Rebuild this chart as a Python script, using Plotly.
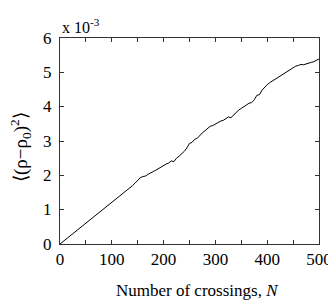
import plotly.graph_objects as go

crossings = list(range(0, 505, 5))
variance_e3 = [
    0.000, 0.060, 0.120, 0.180, 0.240, 0.300, 0.362, 0.420, 0.482, 0.540,
    0.600, 0.662, 0.720, 0.785, 0.842, 0.900, 0.962, 1.015, 1.078, 1.140,
    1.196, 1.262, 1.318, 1.380, 1.440, 1.500, 1.565, 1.630, 1.700, 1.775,
    1.850, 1.930, 1.965, 1.980, 2.030, 2.060, 2.110, 2.150, 2.200, 2.240,
    2.290, 2.330, 2.360, 2.420, 2.400, 2.500, 2.560, 2.620, 2.700, 2.800,
    2.930, 2.960, 3.050, 3.080, 3.170, 3.240, 3.300, 3.360, 3.430, 3.450,
    3.500, 3.530, 3.580, 3.600, 3.640, 3.700, 3.680, 3.760, 3.850, 3.900,
    3.950, 4.000, 4.050, 4.100, 4.120, 4.200, 4.330, 4.350, 4.480, 4.570,
    4.640, 4.700, 4.750, 4.800, 4.850, 4.880, 4.940, 5.000, 5.050, 5.080,
    5.140, 5.180, 5.200, 5.230, 5.220, 5.250, 5.260, 5.290, 5.310, 5.360,
    5.390,
]
x_ticks = list(range(0, 550, 50))
x_labels = [str(v) if v % 100 == 0 else "" for v in x_ticks]
y_ticks = [0, 1, 2, 3, 4, 5, 6]
y_labels = [str(v) for v in y_ticks]

FONT = "Liberation Serif"

fig = go.Figure()
fig.add_trace(go.Scatter(x=crossings, y=variance_e3, mode="lines",
                         line=dict(color="black", width=1), showlegend=False))

# page body has an 8px default margin; offsets below compensate for it
fig.update_layout(
    width=336, height=305,
    margin=dict(l=52, r=21, t=30, b=69),
    paper_bgcolor="white", plot_bgcolor="white",
    font=dict(family=FONT, size=16, color="black"),
)
fig.update_xaxes(range=[0, 500], tickmode="array", tickvals=x_ticks, ticktext=x_labels,
                 ticks="inside", ticklen=4, tickcolor="#333", mirror="ticks",
                 showline=True, linecolor="#333", linewidth=1, showgrid=False,
                 zeroline=False, tickfont=dict(family=FONT, size=17, color="black"))
fig.update_yaxes(range=[0, 6], tickmode="array", tickvals=y_ticks,
                 ticks="inside", ticklen=4, tickcolor="#333", mirror="ticks",
                 showline=True, linecolor="#333", linewidth=1, showgrid=False,
                 zeroline=False, showticklabels=False)

for v, lab in zip(y_ticks, y_labels):
    fig.add_annotation(text=lab, xref="paper", yref="y", x=-0.022, y=v,
                       xanchor="right", yanchor="middle", showarrow=False,
                       font=dict(family=FONT, size=17, color="black"))

fig.add_annotation(text="Number of crossings, <i>N</i>", xref="paper", yref="paper",
                   x=0.53, y=-0.225, xanchor="center", yanchor="middle", showarrow=False,
                   font=dict(family=FONT, size=17, color="black"))
fig.add_annotation(text="\u27e8(\u03c1\u2212\u03c1<sub>0</sub>)<sup>2</sup>\u27e9",
                   xref="paper", yref="paper", x=-0.155, y=0.47, xanchor="center",
                   yanchor="middle", textangle=-90, showarrow=False,
                   font=dict(family=FONT, size=19, color="black"))
fig.add_annotation(text="x 10<sup>-3</sup>", xref="paper", yref="paper",
                   x=0.0, y=1.0, xanchor="left", yanchor="bottom", showarrow=False,
                   font=dict(family=FONT, size=16, color="black"))

fig.write_html("out.html")
